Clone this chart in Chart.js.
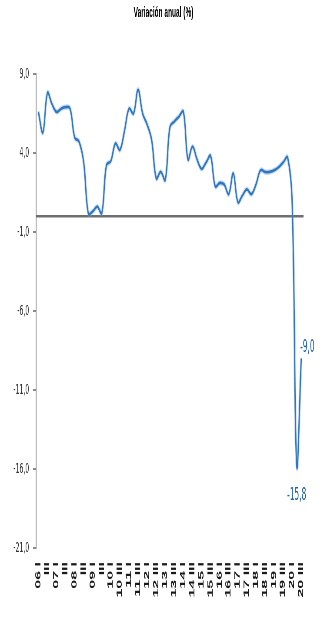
<!DOCTYPE html>
<html><head><meta charset="utf-8">
<script src="https://cdn.jsdelivr.net/npm/chart.js@4.4.1/dist/chart.umd.min.js"></script>
<style>
html,body{margin:0;padding:0;background:#fff;overflow:hidden;width:327px;height:630px;}
#wrap{position:absolute;left:0;top:0;width:752px;height:630px;transform:scaleX(0.43484);transform-origin:0 0;}
canvas{display:block;}
</style></head><body>
<div id="wrap"><canvas id="c" width="752" height="630" style="width:752px;height:630px"></canvas></div>
<script>
const categories = [
 "06 I","06 II","06 III","06 IV","07 I","07 II","07 III","07 IV",
 "08 I","08 II","08 III","08 IV","09 I","09 II","09 III","09 IV",
 "10 I","10 II","10 III","10 IV","11 I","11 II","11 III","11 IV",
 "12 I","12 II","12 III","12 IV","13 I","13 II","13 III","13 IV",
 "14 I","14 II","14 III","14 IV","15 I","15 II","15 III","15 IV",
 "16 I","16 II","16 III","16 IV","17 I","17 II","17 III","17 IV",
 "18 I","18 II","18 III","18 IV","19 I","19 II","19 III","19 IV",
 "20 I","20 II","20 III"
];
const tickLabels = [
 "06 I","III","07 I","III","08 I","III","09 I","III",
 "10 I","10 III","11 I","11 III","12 I","12 III","13 I","13 III",
 "14 I","14 III","15 I","15 III","16 I","16 III","17 I","17 III",
 "18 I","18 III","19 I","19 III","20 I","20 III"
];
const values = [
 6.6, 5.3, 7.8, 7.1, 6.6, 6.8, 6.9, 6.8,
 5.0, 4.7, 3.4, 0.2, 0.3, 0.6, 0.2, 3.2,
 3.5, 4.6, 4.2, 5.4, 6.8, 6.5, 8.0, 6.5,
 5.8, 4.8, 2.4, 2.8, 2.3, 5.6, 6.0, 6.3,
 6.6, 3.6, 4.4, 3.6, 3.0, 3.4, 3.8, 1.9,
 2.1, 2.0, 1.4, 2.7, 0.9, 1.3, 1.7, 1.4,
 2.0, 2.9, 2.8, 2.8, 2.9, 3.1, 3.4, 3.7,
 0.8, -15.8, -9.0
];
const yTicks = [-21, -16, -11, -6, -1, 4, 9];
const labeledPoints = [57, 58];

const fmt = v => v.toFixed(1).replace('.', ',');

const extras = {
  id: 'extras',
  beforeDatasetsDraw(chart) {
    const {ctx, chartArea, scales: {y}} = chart;
    const py = y.getPixelForValue(0);
    ctx.save();
    ctx.strokeStyle = '#6e6e6e';
    ctx.lineWidth = 2.6;
    ctx.beginPath();
    ctx.moveTo(chartArea.left, py);
    ctx.lineTo(chartArea.right, py);
    ctx.stroke();
    ctx.restore();
  },
  afterDatasetsDraw(chart) {
    const {ctx} = chart;
    const meta = chart.getDatasetMeta(1);
    ctx.save();
    ctx.font = "17px 'DejaVu Sans', sans-serif";
    ctx.fillStyle = '#1d5fab';
    ctx.textAlign = 'center';
    ctx.textBaseline = 'middle';
    labeledPoints.forEach((idx, k) => {
      const p = meta.data[idx];
      if (k === 0) ctx.fillText(fmt(values[idx]), p.x, p.y + 30);
      else ctx.fillText(fmt(values[idx]), p.x + 14, p.y - 11);
    });
    ctx.restore();
  }
};

new Chart(document.getElementById('c'), {
  type: 'line',
  data: {
    labels: categories,
    datasets: [
      {data: values, borderColor: 'rgba(110,165,225,0.4)', borderWidth: 5.5, pointRadius: 0, tension: 0.4, fill: false},
      {data: values, borderColor: '#0a58a6', borderWidth: 2.8, pointRadius: 0, tension: 0.4, fill: false}
    ]
  },
  options: {
    responsive: false,
    animation: false,
    devicePixelRatio: 1,
    events: [],
    layout: {padding: 0},
    plugins: {
      legend: {display: false},
      tooltip: {enabled: false},
      title: {
        display: true,
        text: 'Variación anual (%)',
        color: '#000',
        font: {family: "'Liberation Sans', Arial, sans-serif", size: 15, weight: 'bold'},
        padding: {top: 4, bottom: 52}
      }
    },
    scales: {
      x: {
        offset: true,
        border: {display: false},
        grid: {display: false, drawTicks: false},
        afterFit: s => { s.height = 82; },
        ticks: {
          autoSkip: false, maxRotation: 90, minRotation: 90, padding: 14,
          color: '#1a1a1a',
          font: {family: "'Liberation Sans', Arial, sans-serif", size: 16, weight: 'bold'},
          callback: (v, i) => (i % 2 === 0 ? tickLabels[i / 2] : '')
        }
      },
      y: {
        min: -21, max: 9,
        afterBuildTicks: s => { s.ticks = yTicks.map(v => ({value: v})); },
        afterFit: s => { s.width = 83; },
        border: {display: true, color: '#8a8a8a', width: 2},
        grid: {display: true, drawOnChartArea: false, drawTicks: true, tickLength: 7, color: '#8a8a8a', lineWidth: 2},
        ticks: {
          padding: 9, color: '#333',
          font: {family: "'DejaVu Sans', sans-serif", size: 14},
          callback: v => fmt(v)
        }
      },
      yRight: {
        position: 'right',
        display: true,
        min: -21, max: 9,
        border: {display: false},
        grid: {display: false, drawTicks: false},
        ticks: {display: false},
        afterFit: s => { s.width = 54; }
      }
    }
  },
  plugins: [extras]
});
</script>
</body></html>
